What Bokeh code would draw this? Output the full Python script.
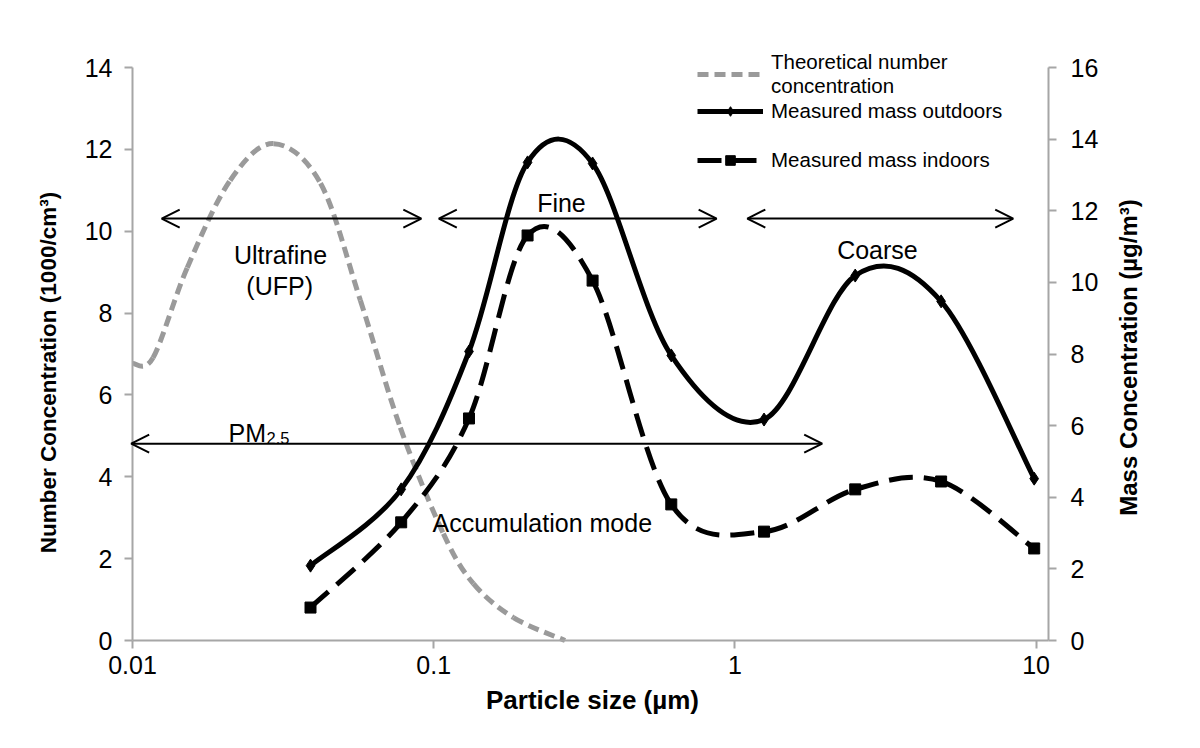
import math
import numpy as np
from bokeh.plotting import figure
from bokeh.models import (Range1d, LinearAxis, LogAxis, FixedTicker, CustomJSTickFormatter,
                          Arrow, OpenHead, Label, Legend, LegendItem, ColumnDataSource)
from bokeh.embed import file_html
from bokeh.resources import INLINE

FONT = "Liberation Sans"
GRAY = "#9a9a9a"
AXIS_GRAY = "#a6a6a6"

# ---------------- data ----------------
size_um = [0.039, 0.078, 0.131, 0.205, 0.337, 0.615, 1.25, 2.51, 4.84, 9.86]
mass_outdoor = [2.09, 4.22, 8.07, 13.35, 13.32, 7.96, 6.17, 10.19, 9.47, 4.52]
mass_indoor = [0.92, 3.30, 6.20, 11.31, 10.05, 3.80, 3.04, 4.22, 4.44, 2.57]

theo_size = [0.0100, 0.0117, 0.0152, 0.0211, 0.0294, 0.0421, 0.0571, 0.0775, 0.1077, 0.1355, 0.184, 0.273]
theo_number = [6.77, 6.91, 9.11, 11.24, 12.14, 11.17, 8.31, 5.20, 2.61, 1.39, 0.56, 0.0]

x_ticks = [0.01, 0.1, 1, 10]
left_ticks = [0, 2, 4, 6, 8, 10, 12, 14]
right_ticks = [0, 2, 4, 6, 8, 10, 12, 14, 16]
x_min, x_max = 0.01, 11.0
left_max = 14
right_max = 16

# size ranges (arrows) : start, end (um) and level on number-concentration axis
range_start = [0.0125, 0.104, 1.10, 0.0099]
range_end = [0.091, 0.87, 8.4, 1.95]
range_level = [10.31, 10.31, 10.31, 4.81]

# ---------------- layout (pixels) ----------------
W, H = 1190, 740
PX_L, PX_R, PX_T, PX_B = 132, 1048, 67, 640
decade = (PX_R - PX_L) / (math.log10(x_max) - math.log10(x_min))
lu = (PX_B - PX_T) / left_max
ru = (PX_B - PX_T) / right_max


def px_x(px):
    return 10 ** (math.log10(x_min) + (px - PX_L) / decade)


def px_y(py):
    return (PX_B - py) / lu


def smooth_source(xs, ys):
    """Bezier segments (Excel-like smoothed line) through the data points, in log-x space."""
    lx = np.log10(np.asarray(xs, float))
    y = np.asarray(ys, float)
    n = len(lx)
    d = dict(x0=[], y0=[], x1=[], y1=[], cx0=[], cy0=[], cx1=[], cy1=[])
    for i in range(n - 1):
        a = max(i - 1, 0)
        b = min(i + 2, n - 1)
        d["x0"].append(10 ** lx[i]); d["y0"].append(y[i])
        d["x1"].append(10 ** lx[i + 1]); d["y1"].append(y[i + 1])
        d["cx0"].append(10 ** (lx[i] + (lx[i + 1] - lx[a]) / 6)); d["cy0"].append(y[i] + (y[i + 1] - y[a]) / 6)
        d["cx1"].append(10 ** (lx[i + 1] - (lx[b] - lx[i]) / 6)); d["cy1"].append(y[i + 1] - (y[b] - y[i]) / 6)
    return ColumnDataSource(d)


p = figure(width=W, height=H, x_axis_type="log", x_axis_location=None, y_axis_location=None,
           x_range=Range1d(px_x(0), px_x(W)), y_range=Range1d(px_y(H), px_y(0)),
           output_backend="svg", toolbar_location=None,
           min_border_left=0, min_border_right=0, min_border_top=0, min_border_bottom=0)
p.extra_y_ranges = {"mass": Range1d(-(H - PX_B) / ru, PX_B / ru)}
p.outline_line_color = None
p.background_fill_color = "white"
p.border_fill_color = "white"
for g in p.grid:
    g.visible = False


def style_axis(ax):
    ax.axis_line_color = AXIS_GRAY
    ax.axis_line_width = 2
    ax.major_tick_line_color = AXIS_GRAY
    ax.major_tick_line_width = 2
    ax.major_tick_out = 8
    ax.major_tick_in = 0
    ax.minor_tick_line_color = None
    ax.major_label_text_font = FONT
    ax.major_label_text_font_size = "25px"
    ax.major_label_text_color = "black"


xa = LogAxis(ticker=FixedTicker(ticks=x_ticks), fixed_location=0, bounds=(x_min, x_max))
style_axis(xa)
xa.formatter = CustomJSTickFormatter(code="return tick.toString();")
xa.major_label_standoff = 7
p.add_layout(xa, "below")

ya = LinearAxis(ticker=FixedTicker(ticks=left_ticks), fixed_location=x_min, bounds=(0, left_max))
style_axis(ya)
ya.major_label_standoff = 12
p.add_layout(ya, "left")

ra = LinearAxis(y_range_name="mass", ticker=FixedTicker(ticks=right_ticks), fixed_location=x_max,
                bounds=(0, right_max))
style_axis(ra)
ra.major_label_standoff = 14
p.add_layout(ra, "right")

# ---------------- series ----------------
theo_src = smooth_source(theo_size, theo_number)
out_src = smooth_source(size_um, mass_outdoor)
in_src = smooth_source(size_um, mass_indoor)

bz = dict(x0="x0", y0="y0", x1="x1", y1="y1", cx0="cx0", cy0="cy0", cx1="cx1", cy1="cy1")
gray = p.bezier(source=theo_src, line_color=GRAY, line_width=5, line_dash="11 6", **bz)
out_line = p.bezier(source=out_src, line_color="black", line_width=5, y_range_name="mass", **bz)
out_pts = p.scatter(size_um, mass_outdoor, marker="diamond", size=13, color="black", y_range_name="mass")
in_line = p.bezier(source=in_src, line_color="black", line_width=5, line_dash="24 11",
                   y_range_name="mass", **bz)
in_pts = p.scatter(size_um, mass_indoor, marker="square", size=11, color="black", y_range_name="mass")

# ---------------- size-range arrows ----------------
for s, e, lvl in zip(range_start, range_end, range_level):
    p.add_layout(Arrow(start=OpenHead(size=18, line_width=2, line_color="black"),
                       end=OpenHead(size=18, line_width=2, line_color="black"),
                       x_start=s, y_start=lvl, x_end=e, y_end=lvl,
                       line_width=2, line_color="black"))


def add_label(x, y, text, align="center", size="25px", x_off=0, y_off=0, angle=0.0,
              baseline="alphabetic", style="normal"):
    p.add_layout(Label(x=x, y=y, text=text, text_align=align, text_baseline=baseline,
                       text_font=FONT, text_font_size=size, text_color="black",
                       text_font_style=style, angle=angle,
                       x_offset=x_off, y_offset=y_off))


add_label(0.031, 9.41, "Ultrafine")
add_label(0.0308, 8.67, "(UFP)")
add_label(0.2656, 10.68, "Fine")
add_label(2.975, 9.53, "Coarse")
add_label(0.0991, 2.86, "Accumulation mode", align="left")
add_label(0.02084, 5.06, "PM", align="left")
add_label(0.02084, 5.06, "2.5", align="left", size="16.5px", x_off=38, y_off=-5)

# axis titles
add_label(px_x(592), px_y(699), "Particle size (µm)", size="26px", style="bold")
add_label(px_x(48), px_y(372), "Number Concentration (1000/cm³)", size="22.5px", angle=math.pi / 2,
          baseline="middle", style="bold")
add_label(px_x(1128), px_y(357), "Mass Concentration (µg/m³)", size="24px", angle=math.pi / 2,
          baseline="middle", style="bold")


# ---------------- legends ----------------
def make_legend(label, renderers, center_py):
    lg = Legend(items=[LegendItem(label=label, renderers=renderers)],
                label_text_font=FONT, label_text_font_size="20.5px", label_text_color="black",
                glyph_width=66, glyph_height=24, label_height=24, label_standoff=8,
                padding=0, margin=0, spacing=0, border_line_alpha=0, background_fill_alpha=0)
    nlines = label.count("\n") + 1
    lg.location = (697, H - (center_py + 12 * nlines))
    p.add_layout(lg)


make_legend("Theoretical number\nconcentration", [gray], 74)
make_legend("Measured mass outdoors", [out_line, out_pts], 110.5)
make_legend("Measured mass indoors", [in_line, in_pts], 159.5)

open("out.html", "w").write(file_html(p, INLINE))
